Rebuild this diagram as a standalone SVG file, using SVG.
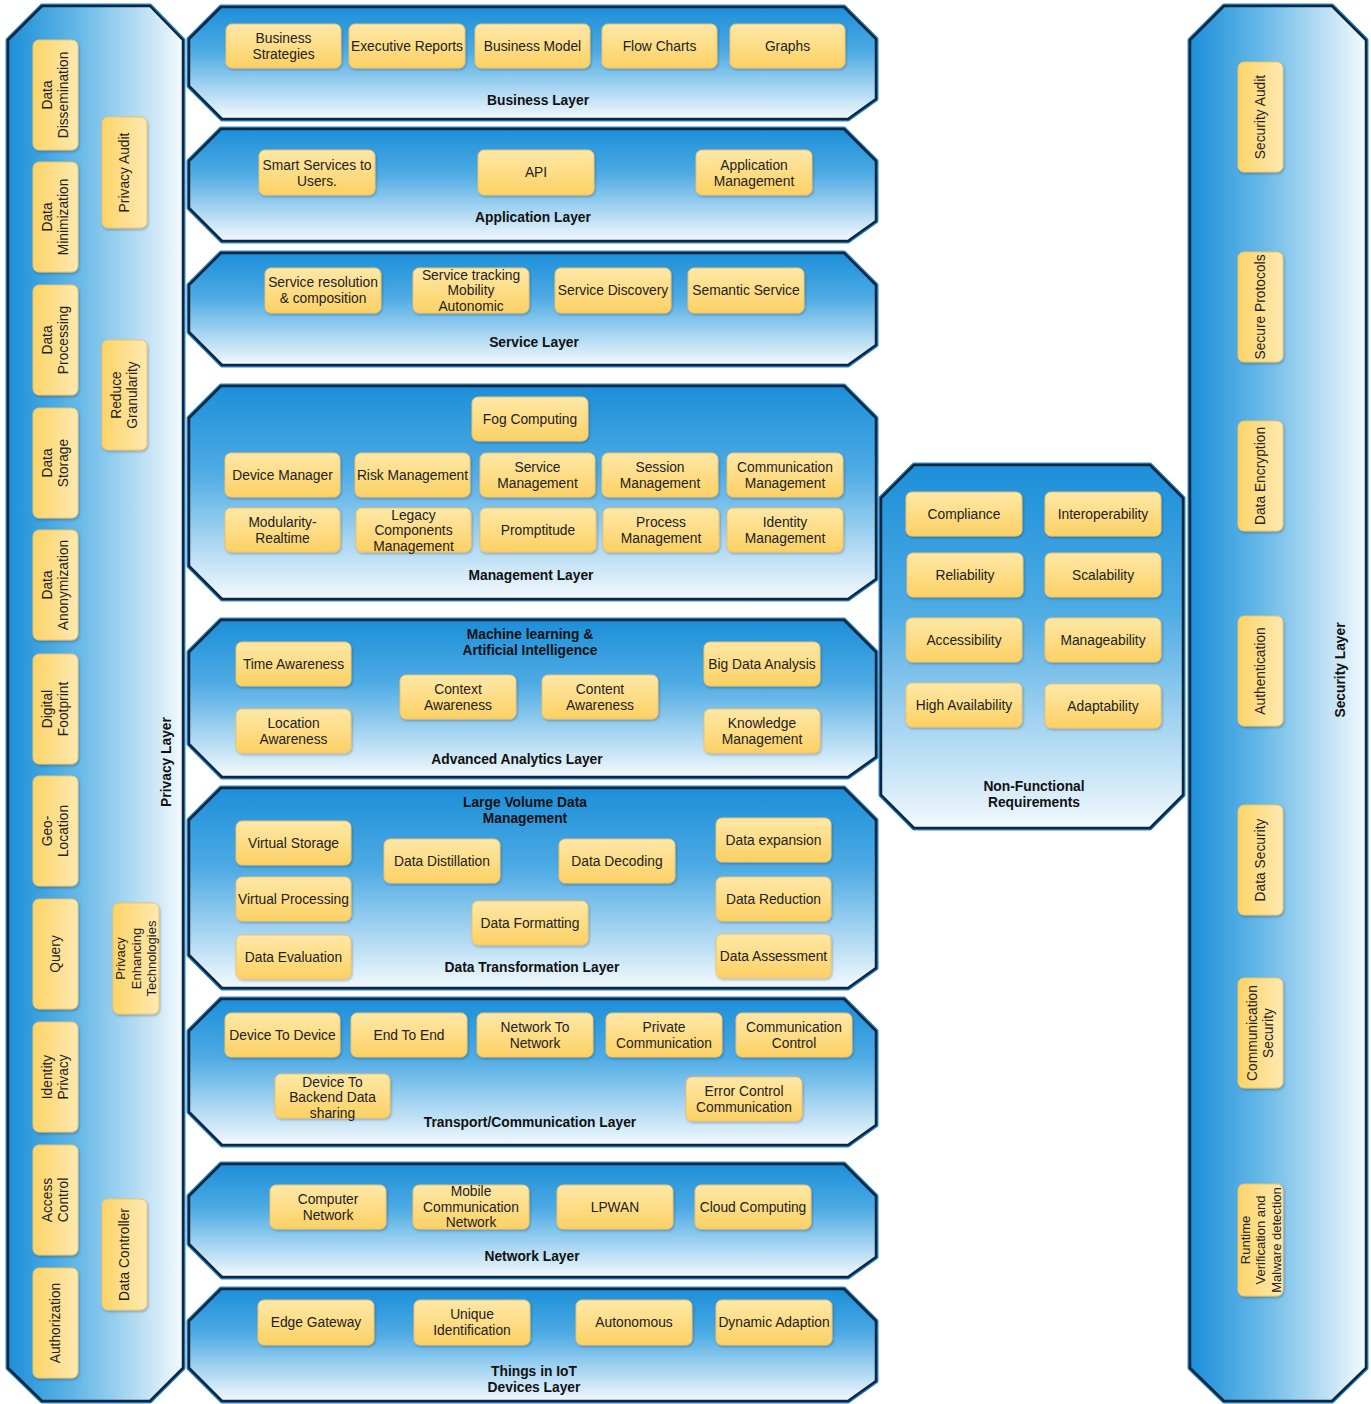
<svg xmlns="http://www.w3.org/2000/svg" width="1371" height="1404" viewBox="0 0 1371 1404">
<defs>
<linearGradient id="gv" x1="0" y1="0" x2="0" y2="1">
<stop offset="0" stop-color="#1c8fd9"/><stop offset="0.4" stop-color="#4eabe4"/><stop offset="1" stop-color="#f3f9fd"/>
</linearGradient>
<linearGradient id="gh" x1="0" y1="0" x2="1" y2="0">
<stop offset="0" stop-color="#1c8fd9"/><stop offset="0.4" stop-color="#66b8e7"/><stop offset="1" stop-color="#f3f9fd"/>
</linearGradient>
<linearGradient id="ng" x1="0" y1="0" x2="0" y2="1">
<stop offset="0" stop-color="#fee8a8"/><stop offset="1" stop-color="#fcd164"/>
</linearGradient>
<linearGradient id="ngh" x1="0" y1="0" x2="1" y2="0">
<stop offset="0" stop-color="#fcd468"/><stop offset="1" stop-color="#fee9b0"/>
</linearGradient>
<filter id="sh" x="-10%" y="-10%" width="120%" height="130%">
<feDropShadow dx="1" dy="1.5" stdDeviation="1" flood-color="#000" flood-opacity="0.25"/>
</filter>
</defs>
<style>
.lo{fill:none;stroke:#2b87c9;stroke-width:5;stroke-linejoin:round}
.lh{fill:url(#gv);stroke:#0d2740;stroke-width:2.5;stroke-linejoin:round}
.lvv{fill:url(#gh);stroke:#0d2740;stroke-width:2.5;stroke-linejoin:round}
.n{fill:url(#ng);stroke:#efc36a;stroke-width:1;filter:url(#sh)}
.nv{fill:url(#ngh);stroke:#efc36a;stroke-width:1;filter:url(#sh)}
text{font-family:"Liberation Sans",Arial,Helvetica,sans-serif;font-size:13.8px;fill:#222;text-anchor:middle}
.b{font-weight:bold;fill:#111}
.sm{font-size:13px}
</style>
<rect width="1371" height="1404" fill="#ffffff"/>

<!-- Privacy Layer -->
<g id="privacy-layer">
<path class="lo" d="M42,6 H150 L183,40 V1368 L150,1401 H42 L8,1368 V40 Z"/>
<path class="lvv" d="M42,6 H150 L183,40 V1368 L150,1401 H42 L8,1368 V40 Z"/>
<text class="b" transform="translate(166,762) rotate(-90)" y="4.5">Privacy Layer</text>
</g>
<g id="p-dissemination"><rect class="nv" x="33" y="40" width="45" height="110" rx="6"/><text transform="translate(55.5,95) rotate(-90)"><tspan x="0" y="-3.3">Data</tspan><tspan x="0" y="12.4">Dissemination</tspan></text></g>
<g id="p-minimization"><rect class="nv" x="33" y="162" width="45" height="110" rx="6"/><text transform="translate(55.5,217) rotate(-90)"><tspan x="0" y="-3.3">Data</tspan><tspan x="0" y="12.4">Minimization</tspan></text></g>
<g id="p-processing"><rect class="nv" x="33" y="285" width="45" height="110" rx="6"/><text transform="translate(55.5,340) rotate(-90)"><tspan x="0" y="-3.3">Data</tspan><tspan x="0" y="12.4">Processing</tspan></text></g>
<g id="p-storage"><rect class="nv" x="33" y="408" width="45" height="110" rx="6"/><text transform="translate(55.5,463) rotate(-90)"><tspan x="0" y="-3.3">Data</tspan><tspan x="0" y="12.4">Storage</tspan></text></g>
<g id="p-anonymization"><rect class="nv" x="33" y="530" width="45" height="110" rx="6"/><text transform="translate(55.5,585) rotate(-90)"><tspan x="0" y="-3.3">Data</tspan><tspan x="0" y="12.4">Anonymization</tspan></text></g>
<g id="p-footprint"><rect class="nv" x="33" y="654" width="45" height="110" rx="6"/><text transform="translate(55.5,709) rotate(-90)"><tspan x="0" y="-3.3">Digital</tspan><tspan x="0" y="12.4">Footprint</tspan></text></g>
<g id="p-geolocation"><rect class="nv" x="33" y="776" width="45" height="110" rx="6"/><text transform="translate(55.5,831) rotate(-90)"><tspan x="0" y="-3.3">Geo-</tspan><tspan x="0" y="12.4">Location</tspan></text></g>
<g id="p-query"><rect class="nv" x="33" y="899" width="45" height="110" rx="6"/><text transform="translate(55.5,954) rotate(-90)" y="4.5">Query</text></g>
<g id="p-identity"><rect class="nv" x="33" y="1022" width="45" height="110" rx="6"/><text transform="translate(55.5,1077) rotate(-90)"><tspan x="0" y="-3.3">Identity</tspan><tspan x="0" y="12.4">Privacy</tspan></text></g>
<g id="p-access"><rect class="nv" x="33" y="1145" width="45" height="110" rx="6"/><text transform="translate(55.5,1200) rotate(-90)"><tspan x="0" y="-3.3">Access</tspan><tspan x="0" y="12.4">Control</tspan></text></g>
<g id="p-authorization"><rect class="nv" x="33" y="1268" width="45" height="110" rx="6"/><text transform="translate(55.5,1323) rotate(-90)" y="4.5">Authorization</text></g>
<g id="p-audit"><rect class="nv" x="102" y="117" width="45" height="111" rx="6"/><text transform="translate(124.5,172.5) rotate(-90)" y="4.5">Privacy Audit</text></g>
<g id="p-granularity"><rect class="nv" x="102" y="340" width="45" height="110" rx="6"/><text transform="translate(124.5,395) rotate(-90)"><tspan x="0" y="-3.3">Reduce</tspan><tspan x="0" y="12.4">Granularity</tspan></text></g>
<g id="p-pet"><rect class="nv" x="113" y="903" width="46" height="111" rx="6"/><text class="sm" transform="translate(136,958.5) rotate(-90)"><tspan x="0" y="-11">Privacy</tspan><tspan x="0" y="4.5">Enhancing</tspan><tspan x="0" y="20">Technologies</tspan></text></g>
<g id="p-controller"><rect class="nv" x="102" y="1199" width="45" height="111" rx="6"/><text transform="translate(124.5,1254.5) rotate(-90)" y="4.5">Data Controller</text></g>

<!-- Security Layer -->
<g id="security-layer">
<path class="lo" d="M1224,6 H1332 L1366,40 V1368 L1332,1401 H1224 L1190,1368 V40 Z"/>
<path class="lvv" d="M1224,6 H1332 L1366,40 V1368 L1332,1401 H1224 L1190,1368 V40 Z"/>
<text class="b" transform="translate(1340,670) rotate(-90)" y="4.5">Security Layer</text>
</g>
<g id="s-audit"><rect class="nv" x="1238" y="62" width="45" height="110" rx="6"/><text transform="translate(1260.5,117) rotate(-90)" y="4.5">Security Audit</text></g>
<g id="s-protocols"><rect class="nv" x="1238" y="252" width="45" height="110" rx="6"/><text transform="translate(1260.5,307) rotate(-90)" y="4.5">Secure Protocols</text></g>
<g id="s-encryption"><rect class="nv" x="1238" y="421" width="45" height="110" rx="6"/><text transform="translate(1260.5,476) rotate(-90)" y="4.5">Data Encryption</text></g>
<g id="s-authentication"><rect class="nv" x="1238" y="616" width="45" height="110" rx="6"/><text transform="translate(1260.5,671) rotate(-90)" y="4.5">Authentication</text></g>
<g id="s-datasecurity"><rect class="nv" x="1238" y="805" width="45" height="110" rx="6"/><text transform="translate(1260.5,860) rotate(-90)" y="4.5">Data Security</text></g>
<g id="s-commsecurity"><rect class="nv" x="1238" y="978" width="45" height="110" rx="6"/><text transform="translate(1260.5,1033) rotate(-90)"><tspan x="0" y="-3.3">Communication</tspan><tspan x="0" y="12.4">Security</tspan></text></g>
<g id="s-runtime"><rect class="nv" x="1238" y="1184" width="45" height="112" rx="6"/><text class="sm" transform="translate(1260.5,1240) rotate(-90)"><tspan x="0" y="-11">Runtime</tspan><tspan x="0" y="4.5">Verification and</tspan><tspan x="0" y="20">Malware detection</tspan></text></g>

<!-- Business Layer -->
<g id="business-layer">
<path class="lo" d="M221,7 H844 L876,39 V99 L848,119 H222 L189,86 V39 Z"/>
<path class="lh" d="M221,7 H844 L876,39 V99 L848,119 H222 L189,86 V39 Z"/>
<text class="b" x="538" y="104.5">Business Layer</text>
</g>
<g id="b-strategies"><rect class="n" x="226" y="24" width="115" height="44" rx="6"/><text><tspan x="283.5" y="42.5">Business</tspan><tspan x="283.5" y="58.5">Strategies</tspan></text></g>
<g id="b-reports"><rect class="n" x="349" y="24" width="116" height="44" rx="6"/><text x="407" y="50.5">Executive Reports</text></g>
<g id="b-model"><rect class="n" x="475" y="24" width="115" height="44" rx="6"/><text x="532.5" y="50.5">Business Model</text></g>
<g id="b-flow"><rect class="n" x="602" y="24" width="115" height="44" rx="6"/><text x="659.5" y="50.5">Flow Charts</text></g>
<g id="b-graphs"><rect class="n" x="730" y="24" width="115" height="44" rx="6"/><text x="787.5" y="50.5">Graphs</text></g>

<!-- Application Layer -->
<g id="application-layer">
<path class="lo" d="M221,129 H844 L876,161 V221 L848,241 H222 L189,208 V161 Z"/>
<path class="lh" d="M221,129 H844 L876,161 V221 L848,241 H222 L189,208 V161 Z"/>
<text class="b" x="533" y="222">Application Layer</text>
</g>
<g id="a-smart"><rect class="n" x="259" y="150" width="116" height="45" rx="6"/><text><tspan x="317" y="169.5">Smart Services to</tspan><tspan x="317" y="185.5">Users.</tspan></text></g>
<g id="a-api"><rect class="n" x="478" y="150" width="116" height="45" rx="6"/><text x="536" y="177">API</text></g>
<g id="a-mgmt"><rect class="n" x="696" y="150" width="116" height="45" rx="6"/><text><tspan x="754" y="169.5">Application</tspan><tspan x="754" y="185.5">Management</tspan></text></g>

<!-- Service Layer -->
<g id="service-layer">
<path class="lo" d="M221,253 H844 L876,285 V345 L848,365 H222 L189,332 V285 Z"/>
<path class="lh" d="M221,253 H844 L876,285 V345 L848,365 H222 L189,332 V285 Z"/>
<text class="b" x="534" y="347">Service Layer</text>
</g>
<g id="sv-resolution"><rect class="n" x="265" y="268" width="116" height="45" rx="6"/><text><tspan x="323" y="287">Service resolution</tspan><tspan x="323" y="303">&amp; composition</tspan></text></g>
<g id="sv-tracking"><rect class="n" x="413" y="268" width="116" height="45" rx="6"/><text><tspan x="471" y="279.5">Service tracking</tspan><tspan x="471" y="295">Mobility</tspan><tspan x="471" y="310.5">Autonomic</tspan></text></g>
<g id="sv-discovery"><rect class="n" x="555" y="268" width="116" height="45" rx="6"/><text x="613" y="295">Service Discovery</text></g>
<g id="sv-semantic"><rect class="n" x="688" y="268" width="116" height="45" rx="6"/><text x="746" y="295">Semantic Service</text></g>

<!-- Management Layer -->
<g id="management-layer">
<path class="lo" d="M221,386 H844 L876,418 V579 L848,599 H222 L189,566 V418 Z"/>
<path class="lh" d="M221,386 H844 L876,418 V579 L848,599 H222 L189,566 V418 Z"/>
<text class="b" x="531" y="579.5">Management Layer</text>
</g>
<g id="m-fog"><rect class="n" x="472" y="397" width="116" height="44" rx="6"/><text x="530" y="423.5">Fog Computing</text></g>
<g id="m-device"><rect class="n" x="225" y="453" width="115" height="44" rx="6"/><text x="282.5" y="479.5">Device Manager</text></g>
<g id="m-risk"><rect class="n" x="355" y="453" width="115" height="44" rx="6"/><text x="412.5" y="479.5">Risk Management</text></g>
<g id="m-service"><rect class="n" x="480" y="453" width="115" height="44" rx="6"/><text><tspan x="537.5" y="472">Service</tspan><tspan x="537.5" y="488">Management</tspan></text></g>
<g id="m-session"><rect class="n" x="602" y="453" width="116" height="44" rx="6"/><text><tspan x="660" y="472">Session</tspan><tspan x="660" y="488">Management</tspan></text></g>
<g id="m-communication"><rect class="n" x="727" y="453" width="116" height="44" rx="6"/><text><tspan x="785" y="472">Communication</tspan><tspan x="785" y="488">Management</tspan></text></g>
<g id="m-modularity"><rect class="n" x="225" y="508" width="115" height="44" rx="6"/><text><tspan x="282.5" y="527">Modularity-</tspan><tspan x="282.5" y="543">Realtime</tspan></text></g>
<g id="m-legacy"><rect class="n" x="356" y="508" width="115" height="44" rx="6"/><text><tspan x="413.5" y="519.5">Legacy</tspan><tspan x="413.5" y="535">Components</tspan><tspan x="413.5" y="550.5">Management</tspan></text></g>
<g id="m-promptitude"><rect class="n" x="480" y="508" width="116" height="44" rx="6"/><text x="538" y="534.5">Promptitude</text></g>
<g id="m-process"><rect class="n" x="603" y="508" width="116" height="44" rx="6"/><text><tspan x="661" y="527">Process</tspan><tspan x="661" y="543">Management</tspan></text></g>
<g id="m-identity"><rect class="n" x="727" y="508" width="116" height="44" rx="6"/><text><tspan x="785" y="527">Identity</tspan><tspan x="785" y="543">Management</tspan></text></g>

<!-- Advanced Analytics Layer -->
<g id="analytics-layer">
<path class="lo" d="M221,620 H844 L876,652 V757 L848,777 H222 L189,744 V652 Z"/>
<path class="lh" d="M221,620 H844 L876,652 V757 L848,777 H222 L189,744 V652 Z"/>
<text class="b"><tspan x="530" y="638.5">Machine learning &amp;</tspan><tspan x="530" y="654.5">Artificial Intelligence</tspan></text>
<text class="b" x="517" y="763.5">Advanced Analytics Layer</text>
</g>
<g id="aa-time"><rect class="n" x="236" y="642" width="115" height="44" rx="6"/><text x="293.5" y="668.5">Time Awareness</text></g>
<g id="aa-location"><rect class="n" x="236" y="709" width="115" height="44" rx="6"/><text><tspan x="293.5" y="727.5">Location</tspan><tspan x="293.5" y="743.5">Awareness</tspan></text></g>
<g id="aa-context"><rect class="n" x="400" y="675" width="116" height="44" rx="6"/><text><tspan x="458" y="693.5">Context</tspan><tspan x="458" y="709.5">Awareness</tspan></text></g>
<g id="aa-content"><rect class="n" x="542" y="675" width="116" height="44" rx="6"/><text><tspan x="600" y="693.5">Content</tspan><tspan x="600" y="709.5">Awareness</tspan></text></g>
<g id="aa-bigdata"><rect class="n" x="704" y="642" width="116" height="44" rx="6"/><text x="762" y="668.5">Big Data Analysis</text></g>
<g id="aa-knowledge"><rect class="n" x="704" y="709" width="116" height="44" rx="6"/><text><tspan x="762" y="727.5">Knowledge</tspan><tspan x="762" y="743.5">Management</tspan></text></g>

<!-- Data Transformation Layer -->
<g id="transformation-layer">
<path class="lo" d="M221,788 H844 L876,820 V968 L848,988 H222 L189,955 V820 Z"/>
<path class="lh" d="M221,788 H844 L876,820 V968 L848,988 H222 L189,955 V820 Z"/>
<text class="b"><tspan x="525" y="806.5">Large Volume Data</tspan><tspan x="525" y="822.5">Management</tspan></text>
<text class="b" x="532" y="971.5">Data Transformation Layer</text>
</g>
<g id="dt-vstorage"><rect class="n" x="236" y="821" width="115" height="44" rx="6"/><text x="293.5" y="847.5">Virtual Storage</text></g>
<g id="dt-vprocessing"><rect class="n" x="236" y="877" width="115" height="44" rx="6"/><text x="293.5" y="903.5">Virtual Processing</text></g>
<g id="dt-evaluation"><rect class="n" x="236" y="935" width="115" height="44" rx="6"/><text x="293.5" y="961.5">Data Evaluation</text></g>
<g id="dt-distillation"><rect class="n" x="384" y="839" width="116" height="44" rx="6"/><text x="442" y="865.5">Data Distillation</text></g>
<g id="dt-decoding"><rect class="n" x="559" y="839" width="116" height="44" rx="6"/><text x="617" y="865.5">Data Decoding</text></g>
<g id="dt-formatting"><rect class="n" x="472" y="901" width="116" height="44" rx="6"/><text x="530" y="927.5">Data Formatting</text></g>
<g id="dt-expansion"><rect class="n" x="716" y="818" width="115" height="44" rx="6"/><text x="773.5" y="844.5">Data expansion</text></g>
<g id="dt-reduction"><rect class="n" x="716" y="877" width="115" height="44" rx="6"/><text x="773.5" y="903.5">Data Reduction</text></g>
<g id="dt-assessment"><rect class="n" x="716" y="934" width="115" height="44" rx="6"/><text x="773.5" y="960.5">Data Assessment</text></g>

<!-- Transport/Communication Layer -->
<g id="transport-layer">
<path class="lo" d="M221,999 H844 L876,1031 V1125 L848,1145 H222 L189,1112 V1031 Z"/>
<path class="lh" d="M221,999 H844 L876,1031 V1125 L848,1145 H222 L189,1112 V1031 Z"/>
<text class="b" x="530" y="1126.5">Transport/Communication Layer</text>
</g>
<g id="t-d2d"><rect class="n" x="225" y="1013" width="115" height="44" rx="6"/><text x="282.5" y="1039.5">Device To Device</text></g>
<g id="t-e2e"><rect class="n" x="351" y="1013" width="116" height="44" rx="6"/><text x="409" y="1039.5">End To End</text></g>
<g id="t-n2n"><rect class="n" x="477" y="1013" width="116" height="44" rx="6"/><text><tspan x="535" y="1032">Network To</tspan><tspan x="535" y="1048">Network</tspan></text></g>
<g id="t-private"><rect class="n" x="606" y="1013" width="116" height="44" rx="6"/><text><tspan x="664" y="1032">Private</tspan><tspan x="664" y="1048">Communication</tspan></text></g>
<g id="t-control"><rect class="n" x="736" y="1013" width="116" height="44" rx="6"/><text><tspan x="794" y="1032">Communication</tspan><tspan x="794" y="1048">Control</tspan></text></g>
<g id="t-backend"><rect class="n" x="275" y="1074" width="115" height="44" rx="6"/><text><tspan x="332.5" y="1086.5">Device To</tspan><tspan x="332.5" y="1102">Backend Data</tspan><tspan x="332.5" y="1117.5">sharing</tspan></text></g>
<g id="t-error"><rect class="n" x="686" y="1077" width="116" height="44" rx="6"/><text><tspan x="744" y="1096">Error Control</tspan><tspan x="744" y="1112">Communication</tspan></text></g>

<!-- Network Layer -->
<g id="network-layer">
<path class="lo" d="M221,1164 H844 L876,1196 V1257 L848,1277 H222 L189,1244 V1196 Z"/>
<path class="lh" d="M221,1164 H844 L876,1196 V1257 L848,1277 H222 L189,1244 V1196 Z"/>
<text class="b" x="532" y="1260.5">Network Layer</text>
</g>
<g id="nw-computer"><rect class="n" x="270" y="1185" width="116" height="44" rx="6"/><text><tspan x="328" y="1203.5">Computer</tspan><tspan x="328" y="1219.5">Network</tspan></text></g>
<g id="nw-mobile"><rect class="n" x="413" y="1185" width="116" height="44" rx="6"/><text><tspan x="471" y="1196">Mobile</tspan><tspan x="471" y="1211.5">Communication</tspan><tspan x="471" y="1227">Network</tspan></text></g>
<g id="nw-lpwan"><rect class="n" x="557" y="1185" width="116" height="44" rx="6"/><text x="615" y="1211.5">LPWAN</text></g>
<g id="nw-cloud"><rect class="n" x="695" y="1185" width="116" height="44" rx="6"/><text x="753" y="1211.5">Cloud Computing</text></g>

<!-- Things in IoT Devices Layer -->
<g id="things-layer">
<path class="lo" d="M221,1289 H844 L876,1321 V1381 L848,1401 H222 L189,1368 V1321 Z"/>
<path class="lh" d="M221,1289 H844 L876,1321 V1381 L848,1401 H222 L189,1368 V1321 Z"/>
<text class="b"><tspan x="534" y="1375.5">Things in IoT</tspan><tspan x="534" y="1391.5">Devices Layer</tspan></text>
</g>
<g id="th-edge"><rect class="n" x="258" y="1300" width="116" height="45" rx="6"/><text x="316" y="1326.5">Edge Gateway</text></g>
<g id="th-unique"><rect class="n" x="414" y="1300" width="116" height="45" rx="6"/><text><tspan x="472" y="1319">Unique</tspan><tspan x="472" y="1335">Identification</tspan></text></g>
<g id="th-autonomous"><rect class="n" x="576" y="1300" width="116" height="45" rx="6"/><text x="634" y="1326.5">Autonomous</text></g>
<g id="th-dynamic"><rect class="n" x="716" y="1300" width="116" height="45" rx="6"/><text x="774" y="1326.5">Dynamic Adaption</text></g>

<!-- Non-Functional Requirements -->
<g id="nfr-layer">
<path class="lo" d="M914,465 H1150 L1183,498 V795 L1150,828 H914 L881,795 V498 Z"/>
<path class="lh" d="M914,465 H1150 L1183,498 V795 L1150,828 H914 L881,795 V498 Z"/>
<text class="b"><tspan x="1034" y="790.5">Non-Functional</tspan><tspan x="1034" y="806.5">Requirements</tspan></text>
</g>
<g id="nf-compliance"><rect class="n" x="906" y="492" width="116" height="44" rx="6"/><text x="964" y="518.5">Compliance</text></g>
<g id="nf-interop"><rect class="n" x="1045" y="492" width="116" height="44" rx="6"/><text x="1103" y="518.5">Interoperability</text></g>
<g id="nf-reliability"><rect class="n" x="907" y="553" width="116" height="44" rx="6"/><text x="965" y="579.5">Reliability</text></g>
<g id="nf-scalability"><rect class="n" x="1045" y="553" width="116" height="44" rx="6"/><text x="1103" y="579.5">Scalability</text></g>
<g id="nf-accessibility"><rect class="n" x="906" y="618" width="116" height="44" rx="6"/><text x="964" y="644.5">Accessibility</text></g>
<g id="nf-manageability"><rect class="n" x="1045" y="618" width="116" height="44" rx="6"/><text x="1103" y="644.5">Manageability</text></g>
<g id="nf-availability"><rect class="n" x="906" y="683" width="116" height="44" rx="6"/><text x="964" y="709.5">High Availability</text></g>
<g id="nf-adaptability"><rect class="n" x="1045" y="684" width="116" height="44" rx="6"/><text x="1103" y="710.5">Adaptability</text></g>

<g id="connectors"/>
</svg>
